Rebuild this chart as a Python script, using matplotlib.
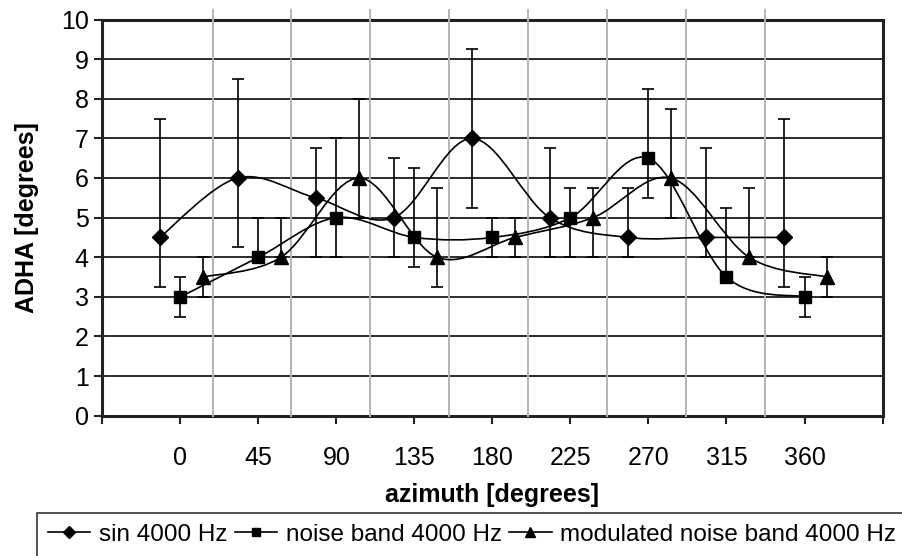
import numpy as np
import matplotlib
matplotlib.use("Agg")
import matplotlib.pyplot as plt
from matplotlib.path import Path
from matplotlib.patches import PathPatch
from matplotlib.lines import Line2D

plt.rcParams['font.family'] = ['Liberation Sans', 'DejaVu Sans']

# azimuth positions (degrees) and values
sin_x = [-12, 33, 78, 123, 168, 213, 258, 303, 348]
sin_y = [4.5, 6.0, 5.5, 5.0, 7.0, 5.0, 4.5, 4.5, 4.5]
sin_hi = [7.5, 8.5, 6.75, 6.5, 9.25, 6.75, 5.75, 6.75, 7.5]
sin_lo = [3.25, 4.25, 4.0, 4.0, 5.25, 4.0, 4.0, 4.0, 3.25]

noise_x = [0, 45, 90, 135, 180, 225, 270, 315, 360]
noise_y = [3.0, 4.0, 5.0, 4.5, 4.5, 5.0, 6.5, 3.5, 3.0]
noise_hi = [3.5, 5.0, 7.0, 6.25, 5.0, 5.75, 8.25, 5.25, 3.5]
noise_lo = [2.5, 4.0, 4.0, 3.75, 4.0, 4.0, 5.5, 3.5, 2.5]

mod_x = [13, 58, 103, 148, 193, 238, 283, 328, 373]
mod_y = [3.5, 4.0, 6.0, 4.0, 4.5, 5.0, 6.0, 4.0, 3.5]
mod_hi = [4.0, 5.0, 8.0, 5.75, 5.0, 5.75, 7.75, 5.75, 4.0]
mod_lo = [3.0, 4.0, 5.0, 3.25, 4.0, 4.0, 5.0, 4.0, 3.0]

tick_pos = list(range(-45, 406, 45))
tick_labels = ['' if (t < 0 or t > 360) else str(t) for t in tick_pos]
vgrid = np.arange(18.5, 340, 45.5)

series = [
    ("sin 4000 Hz", sin_x, sin_y, sin_lo, sin_hi, 'D', 8.5),
    ("noise band 4000 Hz", noise_x, noise_y, noise_lo, noise_hi, 's', 8),
    ("modulated noise band 4000 Hz", mod_x, mod_y, mod_lo, mod_hi, '^', 10),
]


def smooth_path(xs, ys):
    # Excel-like smoothed line: cubic bezier through the points
    p = np.column_stack([xs, ys]).astype(float)
    n = len(p)
    verts = [p[0]]
    codes = [Path.MOVETO]
    for i in range(n - 1):
        p0 = p[i - 1] if i > 0 else p[i]
        p3 = p[i + 2] if i + 2 < n else p[i + 1]
        c1 = p[i] + (p[i + 1] - p0) / 6.0
        c2 = p[i + 1] - (p3 - p[i]) / 6.0
        verts += [c1, c2, p[i + 1]]
        codes += [Path.CURVE4] * 3
    return Path(verts, codes)


fig = plt.figure(figsize=(9.03, 5.56), dpi=100)
ax = fig.add_axes([0.1135, 0.2523, 0.8638, 0.7126])

ax.set_xlim(-45, 405)
ax.set_ylim(0, 10)

# grey verticals stick out above the plot area like in the original
for gx in vgrid:
    ax.plot([gx, gx], [0, 10.24], color='#b4b4b4', lw=1.4, clip_on=False, zorder=3)
for gy in range(1, 10):
    ax.axhline(gy, color='#1a1a1a', lw=1.3, zorder=1)

handles = []
for label, xs, ys, lo, hi, mk, ms in series:
    ax.add_patch(PathPatch(smooth_path(xs, ys), facecolor='none',
                           edgecolor='black', lw=1.2, zorder=4))
    ys_a = np.array(ys)
    err = [ys_a - np.array(lo), np.array(hi) - ys_a]
    ax.errorbar(xs, ys, yerr=err, fmt='none', ecolor='black', elinewidth=1.2,
                capsize=4, capthick=1.2, zorder=5)
    ax.plot(xs, ys, ls='none', marker=mk, ms=ms, color='black', zorder=6)
    handles.append(Line2D([], [], color='black', lw=1.2, marker=mk, ms=ms * 0.7,
                          label=label))

ax.set_xticks(tick_pos)
ax.set_xticklabels(tick_labels)
ax.set_yticks(range(0, 11))
ax.tick_params(axis='both', direction='out', length=6, width=1.5, color='#222222',
               labelsize=18, pad=4)
ax.tick_params(axis='x', pad=16)

for s in ax.spines.values():
    s.set_color('#222222')
    s.set_linewidth(2.2)

ax.set_xlabel('azimuth [degrees]', fontsize=18, fontweight='bold', labelpad=9)
ax.set_ylabel('ADHA [degrees]', fontsize=18, fontweight='bold', labelpad=16)

leg = fig.legend(handles=handles, loc='upper left', bbox_to_anchor=(37 / 903, 1 - 513 / 556),
                 ncol=3, fontsize=17.5, frameon=True, fancybox=False, edgecolor='black',
                 handlelength=1.75, handletextpad=0.35, columnspacing=0.3,
                 borderpad=0.45, borderaxespad=0)
leg.get_frame().set_linewidth(1.2)

fig.savefig('out.png', dpi=100)
